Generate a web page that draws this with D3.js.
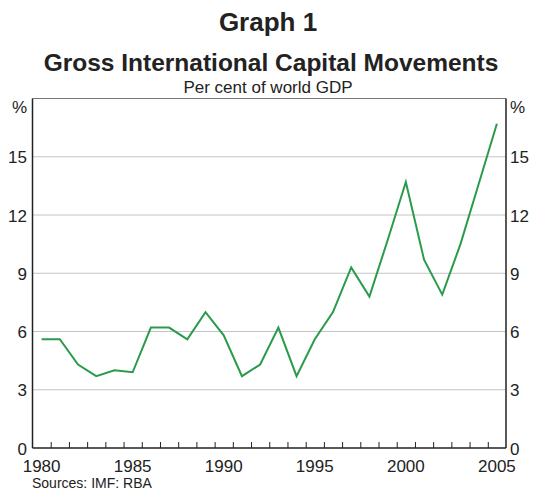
<!DOCTYPE html>
<html><head><meta charset="utf-8">
<script src="https://cdn.jsdelivr.net/npm/d3@7"></script>
<style>body{margin:0;background:#fff}svg{display:block;font-family:"Liberation Sans",Arial,sans-serif}</style>
</head><body>
<script>
const years = [1980,1981,1982,1983,1984,1985,1986,1987,1988,1989,1990,1991,1992,1993,1994,1995,1996,1997,1998,1999,2000,2001,2002,2003,2004,2005];
const values = [5.6,5.6,4.3,3.7,4.0,3.9,6.2,6.2,5.6,7.0,5.8,3.7,4.3,6.2,3.7,5.6,7.0,9.3,7.8,10.7,13.7,9.7,7.9,10.5,13.6,16.7];
const yTicks = [0,3,6,9,12,15];
const xLabels = [1980,1985,1990,1995,2000,2005];
const title = "Graph 1";
const subtitle = "Gross International Capital Movements";
const units = "Per cent of world GDP";
const source = "Sources: IMF: RBA";

const W = 535, H = 490;
const m = {l:32.5, r:506, t:98.5, b:448};
const svg = d3.select("body").append("svg").attr("width",W).attr("height",H);
const x = d3.scaleLinear().domain([1980,2006]).range([m.l,m.r]);
const y = d3.scaleLinear().domain([0,18]).range([m.b,m.t]);

// gridlines
svg.append("g").selectAll("line").data(yTicks.filter(d=>d>0)).join("line")
  .attr("x1",m.l).attr("x2",m.r).attr("y1",d=>y(d)).attr("y2",d=>y(d))
  .attr("stroke","#c4c4c4").attr("stroke-width",1);

// frame
svg.append("line").attr("x1",m.l).attr("x2",m.r).attr("y1",m.t).attr("y2",m.t).attr("stroke","#777").attr("stroke-width",1.2);
svg.append("line").attr("x1",m.l).attr("x2",m.l).attr("y1",m.t).attr("y2",m.b).attr("stroke","#222").attr("stroke-width",1.5);
svg.append("line").attr("x1",m.r).attr("x2",m.r).attr("y1",m.t).attr("y2",m.b).attr("stroke","#222").attr("stroke-width",1.5);

// bottom axis with inward ticks at year boundaries
const xAxis = d3.axisBottom(x).tickValues(d3.range(1981,2006)).tickSize(-6).tickFormat("");
const gx = svg.append("g").attr("transform",`translate(0,${m.b})`).call(xAxis);
gx.select(".domain").attr("stroke","#222").attr("stroke-width",1.5).attr("d",`M${m.l},0H${m.r}`);
gx.selectAll(".tick line").attr("stroke","#222");

svg.append("g").selectAll("text").data(xLabels).join("text")
  .attr("x",d=>x(d+0.5)).attr("y",472).attr("text-anchor","middle")
  .attr("font-size",17).attr("fill","#222").text(d=>d);

// y labels both sides
const yl = svg.append("g").attr("font-size",17).attr("fill","#222");
yl.selectAll(".l").data(yTicks).join("text").attr("class","l")
  .attr("x",27).attr("y",d=>y(d)+6.5).attr("text-anchor","end").text(d=>d);
yl.selectAll(".r").data(yTicks).join("text").attr("class","r")
  .attr("x",510).attr("y",d=>y(d)+6.5).attr("text-anchor","start").text(d=>d);
yl.append("text").attr("x",27).attr("y",112.5).attr("text-anchor","end").text("%");
yl.append("text").attr("x",510).attr("y",112.5).attr("text-anchor","start").text("%");

// line
const line = d3.line().x((d,i)=>x(years[i]+0.5)).y(d=>y(d));
svg.append("path").datum(values).attr("d",line).attr("fill","none")
  .attr("stroke","#2a9b4b").attr("stroke-width",2).attr("stroke-linejoin","miter");

// titles
svg.append("text").attr("x",268).attr("y",31).attr("text-anchor","middle")
  .attr("font-size",26).attr("font-weight","bold").attr("fill","#222").text(title);
svg.append("text").attr("x",271).attr("y",71).attr("text-anchor","middle")
  .attr("font-size",24.5).attr("font-weight","bold").attr("fill","#222").text(subtitle);
svg.append("text").attr("x",268).attr("y",93).attr("text-anchor","middle")
  .attr("font-size",17).attr("fill","#222").text(units);
svg.append("text").attr("x",32).attr("y",488).attr("font-size",14).attr("fill","#222").text(source);
</script>
</body></html>
